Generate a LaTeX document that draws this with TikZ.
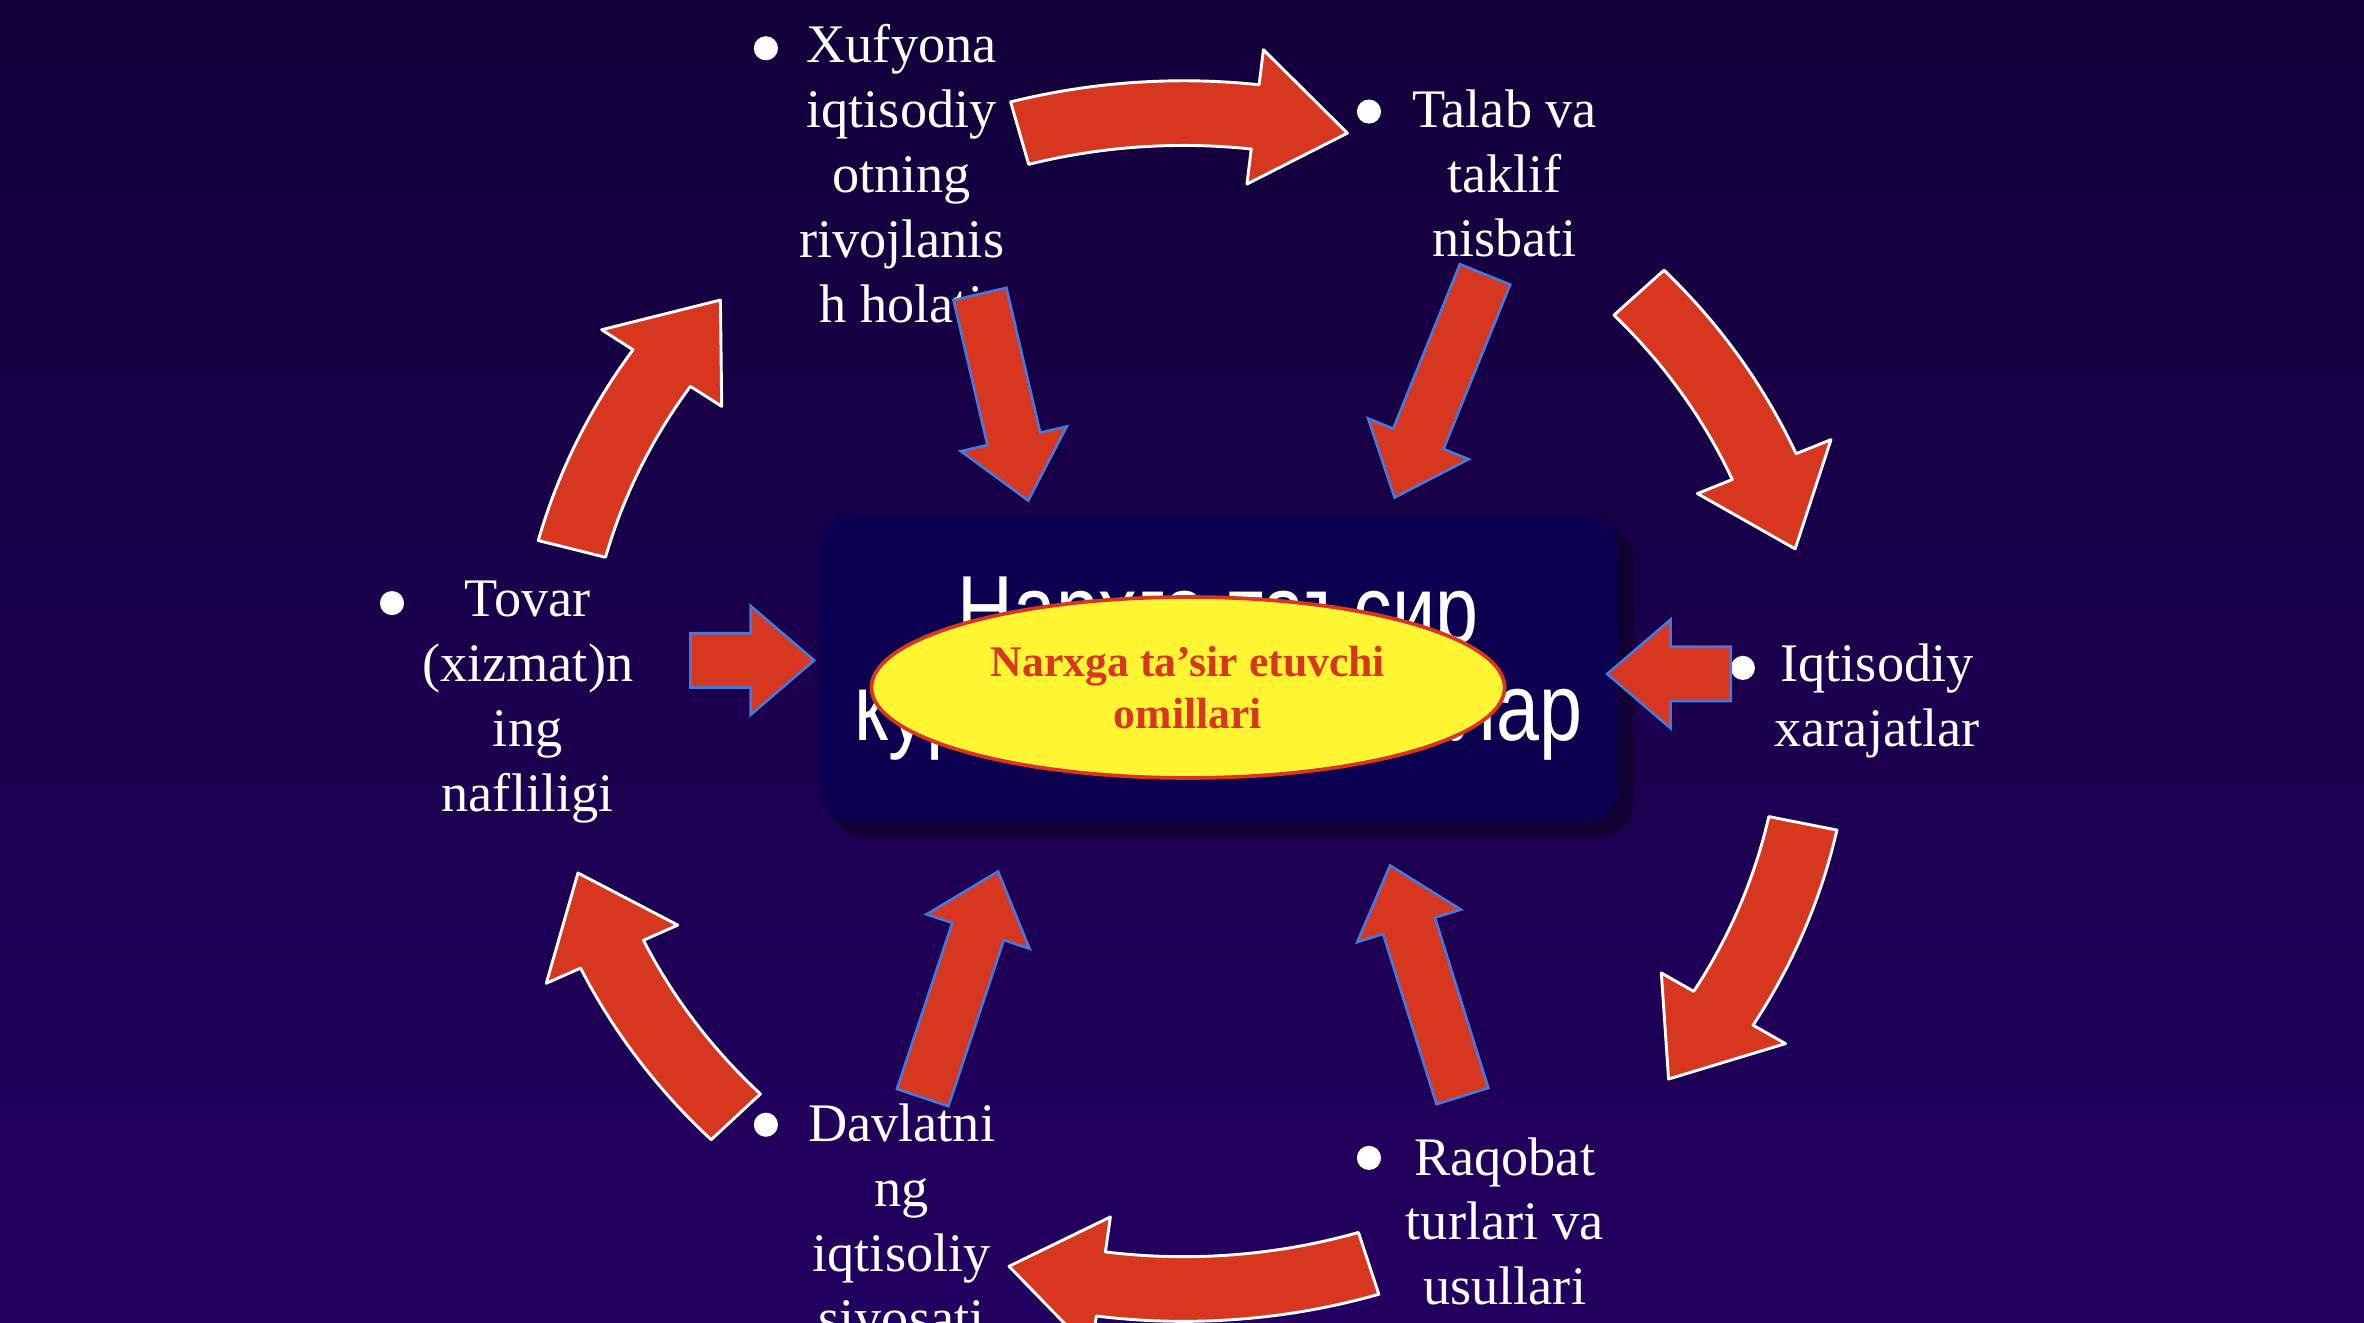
\documentclass[tikz,border=0pt]{standalone}
\usepackage{fontspec}
\setmainfont{Liberation Serif}
\newfontfamily\grotesk{Liberation Sans}
\usetikzlibrary{positioning, shapes.geometric, calc}
\definecolor{pfeilrot}{HTML}{D6371E}
\definecolor{randblau}{HTML}{4A78D8}
\definecolor{kasten}{HTML}{0C0050}
\definecolor{himmeloben}{HTML}{12003A}
\definecolor{himmelunten}{HTML}{220060}
\tikzset{
    etikett/.style={
        text=white,
        align=center,
        inner sep=0pt,
        font=\fontsize{20.5}{24.5}\selectfont
    },
    punkt/.style={circle, fill=white, inner sep=0pt, minimum size=3.2mm},
    bogenpfeil/.style={fill=pfeilrot, draw=white, line width=1.1pt, line join=round},
    keilpfeil/.style={fill=pfeilrot, draw=randblau, line width=1pt}
}
% Ellipse der Pfeile um die Mitte
\def\cx{785}\def\cy{465}\def\rx{420}\def\ry{390}
% gebogener Blockpfeil: Startwinkel, Spitzenwinkel
\newcommand\bogen[2]{%
    \pgfmathsetmacro\kopf{#2-8.5}
    \filldraw[bogenpfeil]
        plot[domain=#1:\kopf, samples=25] ({\cx+1.055*\rx*cos(\x)}, {\cy+1.055*\ry*sin(\x)})
        -- ({\cx+1.115*\rx*cos(\kopf)}, {\cy+1.115*\ry*sin(\kopf)})
        -- ({\cx+\rx*cos(#2)}, {\cy+\ry*sin(#2)})
        -- ({\cx+0.885*\rx*cos(\kopf)}, {\cy+0.885*\ry*sin(\kopf)})
        -- plot[domain=\kopf:#1, samples=25] ({\cx+0.945*\rx*cos(\x)}, {\cy+0.945*\ry*sin(\x)})
        -- cycle;
}
% gerader Blockpfeil: x1, y1, x2, y2 (Spitze)
\newcommand\keil[4]{%
    \pgfmathsetmacro\winkel{atan2(#2-#4,#3-#1)}
    \pgfmathsetmacro\laenge{veclen(#3-#1,#4-#2)}
    \begin{scope}[shift={(#1,#2)}, rotate=\winkel]
        \filldraw[keilpfeil] (0,-18) -- (\laenge-42,-18) -- (\laenge-42,-36) -- (\laenge,0)
            -- (\laenge-42,36) -- (\laenge-42,18) -- (0,18) -- cycle;
    \end{scope}
}
\begin{document}
\begin{tikzpicture}[x=0.2mm, y=-0.2mm]

    % Hintergrund
    \shade[top color=himmeloben, bottom color=himmelunten] (0,0) rectangle (1568,877);
    \useasboundingbox (0,0) rectangle (1568,877);

    % Mittelkasten mit Schatten
    \fill[black, opacity=0.35, rounded corners=12pt] (551,350) rectangle (1083,555);
    \fill[kasten, rounded corners=12pt] (543,342) rectangle (1073,545);
    \node[text=white, inner sep=0pt, font=\grotesk\fontsize{36}{34}\selectfont] (verdeckt) at (808,446)
        {\scalebox{0.81}[1]{\begin{tabular}{@{}c@{}}Нархга таъсир\\кўрсатувчи омиллар\end{tabular}}};
    \node[ellipse, fill=yellow!80!white, draw=pfeilrot, line width=1.4pt,
        minimum width=420*0.2mm, minimum height=120*0.2mm, inner sep=0pt,
        text=pfeilrot, align=center, font=\bfseries\fontsize{16.5}{19.4}\selectfont] (omillar) at (788,456)
        {Narxga ta’sir etuvchi\\omillari};

    % Beschriftungen
    \node[punkt] (p1) at (508,32) {};
    \node[etikett, anchor=north] (xufyona) at (598,16) {Xufyona\\iqtisodiy\\otning\\rivojlanis\\h holati};
    \node[punkt] (p2) at (908,74) {};
    \node[etikett, anchor=north] (talab) at (998,59) {Talab va\\taklif\\nisbati};
    \node[punkt] (p3) at (1156,443) {};
    \node[etikett, anchor=north] (xarajat) at (1245,427) {Iqtisodiy\\xarajatlar};
    \node[punkt] (p4) at (908,768) {};
    \node[etikett, anchor=north] (raqobat) at (998,754) {Raqobat\\turlari va\\usullari};
    \node[punkt] (p5) at (508,746) {};
    \node[etikett, anchor=north] (davlat) at (598,732) {Davlatni\\ng\\iqtisoliy\\siyosati};
    \node[punkt] (p6) at (260,400) {};
    \node[etikett, anchor=north] (tovar) at (350,385) {Tovar\\(xizmat)n\\ing\\nafliligi};

    % Pfeile im Kreis
    \foreach \von/\bis in {-105/-75, -44/-15, 12/40, 73/106, 135/163, 195/223} {
        \bogen{\von}{\bis}
    }

    % Pfeile zur Mitte
    \keil{650}{195}{682}{332}
    \keil{985}{182}{925}{330}
    \keil{458}{438}{540}{438}
    \keil{1148}{447}{1066}{447}
    \keil{612}{728}{662}{578}
    \keil{970}{727}{922}{574}

\end{tikzpicture}
\end{document}
